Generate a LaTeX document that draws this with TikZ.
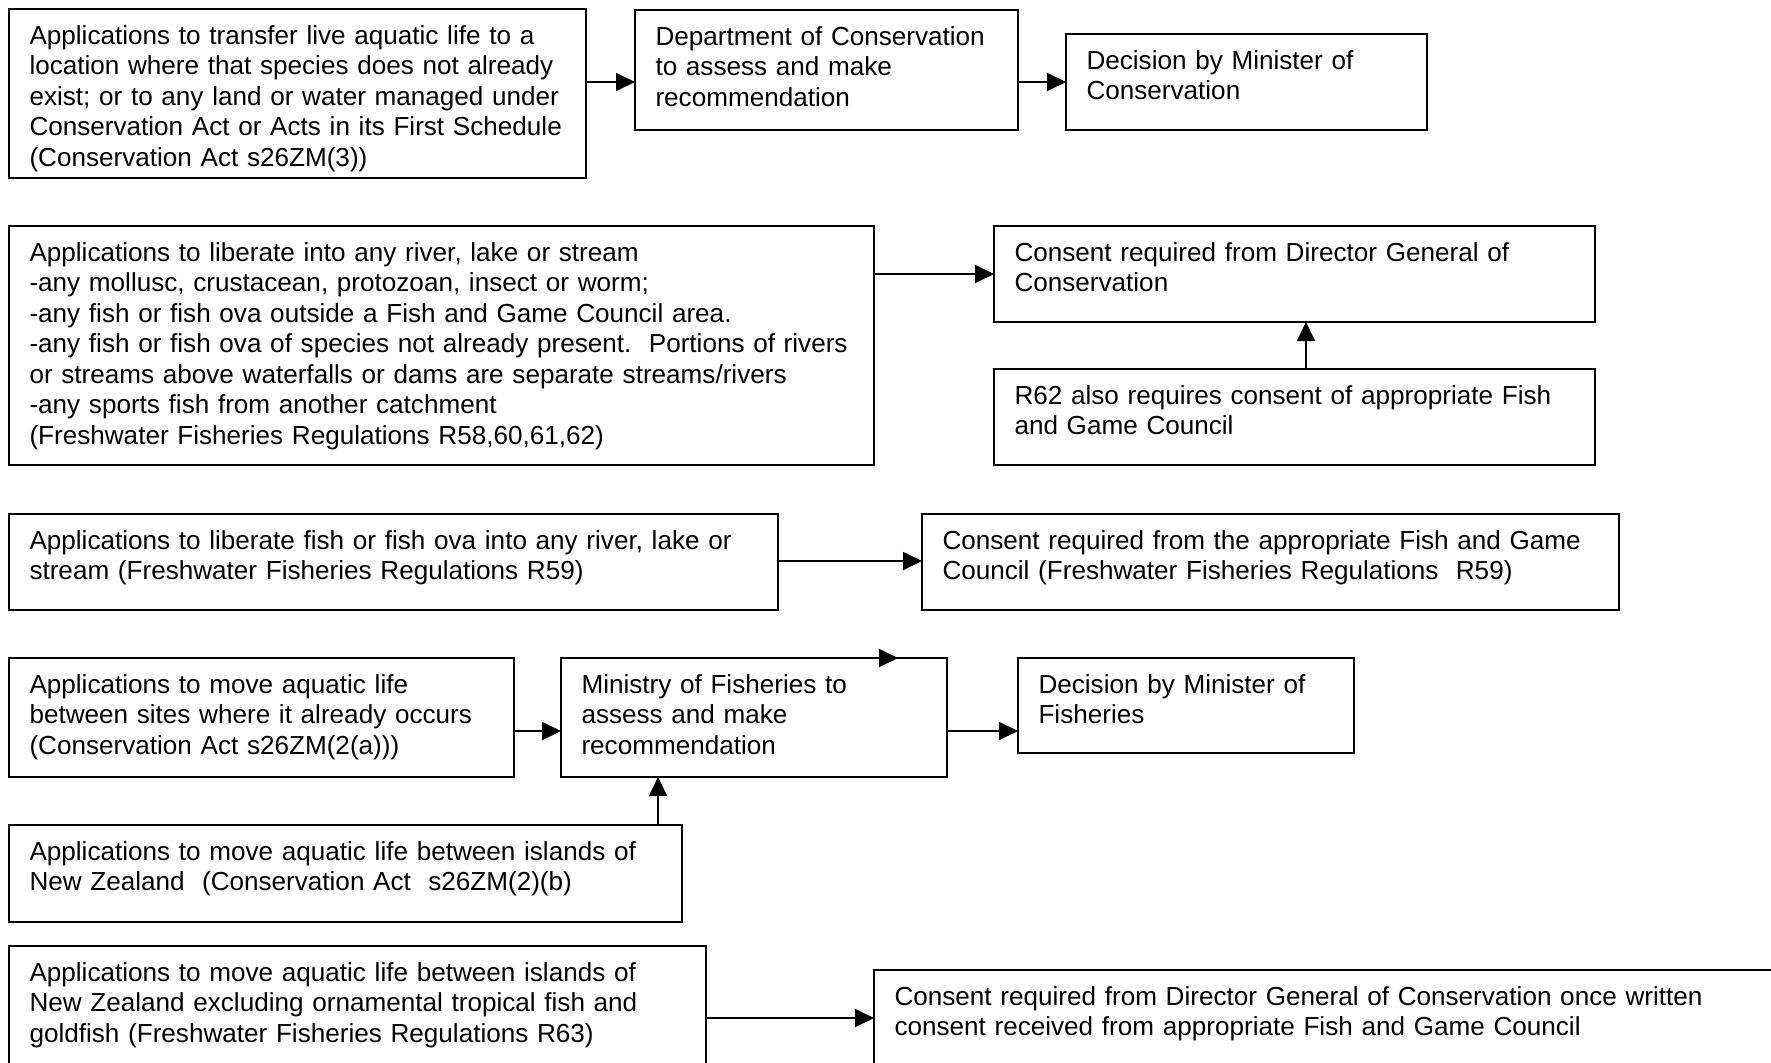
\documentclass[tikz,border=0pt]{standalone}
\usepackage{fontspec}
\setmainfont{Liberation Sans}
\usetikzlibrary{arrows.meta}
\newcommand\bxlines[1]{\begin{tabular}[t]{@{}l@{}}#1\end{tabular}}
\tikzset{
  bx/.code 2 args={%
    \pgfmathsetmacro\bxw{#1*0.5}%
    \pgfmathsetmacro\bxt{#1*0.5-20.5}%
    \pgfmathsetmacro\bxd{#2*0.5-16-9.5}%
    \edef\bxtmp{\noexpand\tikzset{minimum width=\bxw pt, text width=\bxt pt, text depth=\bxd pt}}\bxtmp},
  box/.style={draw, line width=0.9pt, anchor=north west, inner xsep=10.25pt, inner ysep=8pt,
    text height=9.5pt, align=left, outer sep=0pt, font=\fontsize{13.05}{15.25}\selectfont},
  arr/.style={line width=0.9pt, -{Triangle[length=9.5pt,width=9pt]}},
}
\begin{document}
\begin{tikzpicture}[x=0.5pt,y=-0.5pt]
\clip (0,0) rectangle (1771,1062);
\fill[white] (0,0) rectangle (1771,1062);
% row 1
\node[box,bx={577}{169}] (a1) at (9,9) {\bxlines{Applications to transfer live aquatic life to a\\location where that species does not already\\exist; or to any land or water managed under\\Conservation Act or Acts in its First Schedule\\(Conservation Act s26ZM(3))}};
\node[box,bx={383}{120}] (a2) at (635,10) {\bxlines{Department of Conservation\\to assess and make\\recommendation}};
\node[box,bx={361}{96}] (a3) at (1066,34) {\bxlines{Decision by Minister of\\Conservation}};
\draw[arr] (a1.east |- 0,82) -- (a2.west |- 0,82);
\draw[arr] (a2.east |- 0,82) -- (a3.west |- 0,82);
% row 2
\node[box,bx={865}{239}] (b1) at (9,226) {\bxlines{Applications to liberate into any river, lake or stream\\-any mollusc, crustacean, protozoan, insect or worm;\\-any fish or fish ova outside a Fish and Game Council area.\\-any fish or fish ova of species not already present.\ \ Portions of rivers\\or streams above waterfalls or dams are separate streams/rivers\\-any sports fish from another catchment\\(Freshwater Fisheries Regulations R58,60,61,62)}};
\node[box,bx={601}{96}] (b2) at (994,226) {\bxlines{Consent required from Director General of\\Conservation}};
\node[box,bx={601}{96}] (b3) at (994,369) {\bxlines{R62 also requires consent of appropriate Fish\\and Game Council}};
\draw[arr] (b1.east |- 0,274) -- (b2.west |- 0,274);
\draw[arr] (1306,0 |- b3.north) -- (1306,0 |- b2.south);
% row 3
\node[box,bx={769}{96}] (c1) at (9,514) {\bxlines{Applications to liberate fish or fish ova into any river, lake or\\stream (Freshwater Fisheries Regulations R59)}};
\node[box,bx={697}{96}] (c2) at (922,514) {\bxlines{Consent required from the appropriate Fish and Game\\Council (Freshwater Fisheries Regulations\ \ R59)}};
\draw[arr] (c1.east |- 0,561) -- (c2.west |- 0,561);
% row 4
\node[box,bx={505}{119}] (d1) at (9,658) {\bxlines{Applications to move aquatic life\\between sites where it already occurs\\(Conservation Act s26ZM(2(a)))}};
\node[box,bx={386}{119}] (d2) at (561,658) {\bxlines{Ministry of Fisheries to\\assess and make\\recommendation}};
\node[box,bx={336}{95}] (d3) at (1018,658) {\bxlines{Decision by Minister of\\Fisheries}};
\node[box,bx={673}{97}] (d4) at (9,825) {\bxlines{Applications to move aquatic life between islands of\\New Zealand\ \ (Conservation Act\ \ s26ZM(2)(b)}};
\draw[arr] (d1.east |- 0,731) -- (d2.west |- 0,731);
\draw[arr] (d2.east |- 0,731) -- (d3.west |- 0,731);
\draw[arr] (658,0 |- d4.north) -- (658,0 |- d2.south);
\coordinate (s1) at (753,658);
\coordinate (s2) at (898,658);
\draw[arr] (s1) -- (s2);
% row 5
\node[box,bx={697}{160}] (e1) at (9,946) {\bxlines{Applications to move aquatic life between islands of\\New Zealand excluding ornamental tropical fish and\\goldfish (Freshwater Fisheries Regulations R63)}};
\node[box,bx={1000}{150}] (e2) at (874,970) {\bxlines{Consent required from Director General of Conservation once written\\consent received from appropriate Fish and Game Council}};
\draw[arr] (e1.east |- 0,1018) -- (e2.west |- 0,1018);
\end{tikzpicture}
\end{document}
